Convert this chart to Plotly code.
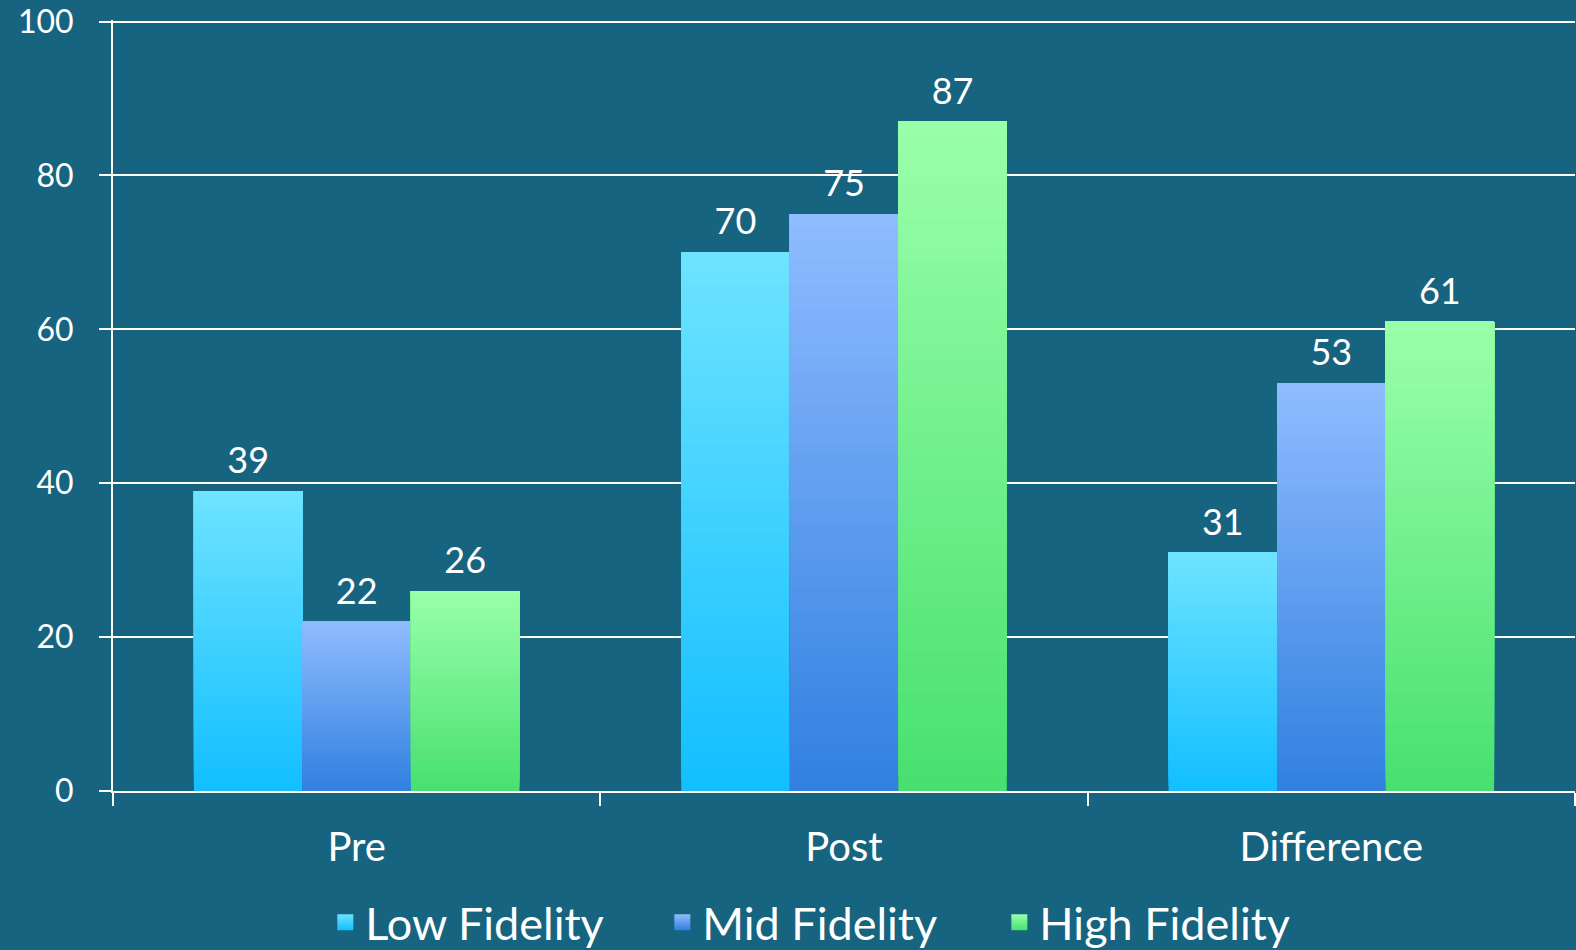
import plotly.graph_objects as go

categories = ["Pre", "Post", "Difference"]
series_names = ["Low Fidelity", "Mid Fidelity", "High Fidelity"]
low_fidelity = [39, 70, 31]
mid_fidelity = [22, 75, 53]
high_fidelity = [26, 87, 61]
y_ticks = [0, 20, 40, 60, 80, 100]

series_values = [low_fidelity, mid_fidelity, high_fidelity]
# (bottom colour, top colour) for each series' vertical gradient
series_colors = [
    ((18, 191, 255), (110, 227, 255)),
    ((48, 128, 224), (144, 188, 255)),
    ((72, 224, 112), (154, 255, 170)),
]

BG = "#176480"
FONT = "Lato"
N_SEG = 48
LABEL_LIFT = 0.9  # axis units of empty space between bar top and its label


def mix(c0, c1, t):
    return "rgb(%d,%d,%d)" % tuple(round(a + (b - a) * t) for a, b in zip(c0, c1))


fig = go.Figure()

for s, (name, vals, (cb, ct)) in enumerate(zip(series_names, series_values, series_colors)):
    # gradient: each slice runs from its start to the bar top, later slices paint over
    for i in range(N_SEG):
        t = (i + 0.5) / N_SEG
        fig.add_trace(go.Bar(
            x=categories,
            y=[v * (N_SEG - i) / N_SEG for v in vals],
            base=[v * i / N_SEG for v in vals],
            offsetgroup=str(s),
            marker=dict(color=mix(cb, ct, t), line=dict(width=0)),
            showlegend=False,
            hoverinfo="skip",
        ))
    # value labels
    fig.add_trace(go.Bar(
        x=categories,
        y=[LABEL_LIFT] * len(vals),
        base=vals,
        offsetgroup=str(s),
        marker=dict(color="rgba(0,0,0,0)", line=dict(width=0)),
        text=[str(v) for v in vals],
        textposition="outside",
        textfont=dict(family=FONT, size=36, color="white"),
        cliponaxis=False,
        showlegend=False,
        hoverinfo="skip",
    ))
    # legend entry
    fig.add_trace(go.Scatter(
        x=[None], y=[None], mode="markers", name=name,
        marker=dict(symbol="square", size=16, color=mix(cb, ct, 1.0),
                    gradient=dict(type="vertical", color=mix(cb, ct, 0.0)),
                    line=dict(width=0)),
    ))

fig.update_layout(
    width=1576, height=950,
    paper_bgcolor=BG, plot_bgcolor=BG,
    margin=dict(l=113, r=1, t=20, b=159, autoexpand=False),
    barmode="group", bargap=0.332, bargroupgap=0,
    font=dict(family=FONT, color="white"),
    showlegend=True,
    legend=dict(orientation="h", x=0.491, xanchor="center", yref="container",
                y=0.029, yanchor="middle", font=dict(size=45, color="white"),
                bgcolor="rgba(0,0,0,0)", itemsizing="trace", traceorder="normal",
                entrywidth=292),
    xaxis=dict(type="category", tickson="boundaries", ticks="outside", ticklen=13,
               tickcolor="white", tickwidth=2, showline=True, linecolor="white",
               linewidth=2, showgrid=False, tickfont=dict(size=40, color="white"),
               ticklabelstandoff=20, automargin=False),
    yaxis=dict(range=[0, 100.2], tickvals=y_ticks, ticks="outside", ticklen=12,
               tickcolor="white", tickwidth=2, showline=True, linecolor="white",
               linewidth=2, showgrid=True, gridcolor="white", gridwidth=2,
               zeroline=False, tickfont=dict(size=32, color="white"),
               ticklabelstandoff=19, ticklabeloverflow="allow", automargin=False),
)

fig.write_html("out.html")
